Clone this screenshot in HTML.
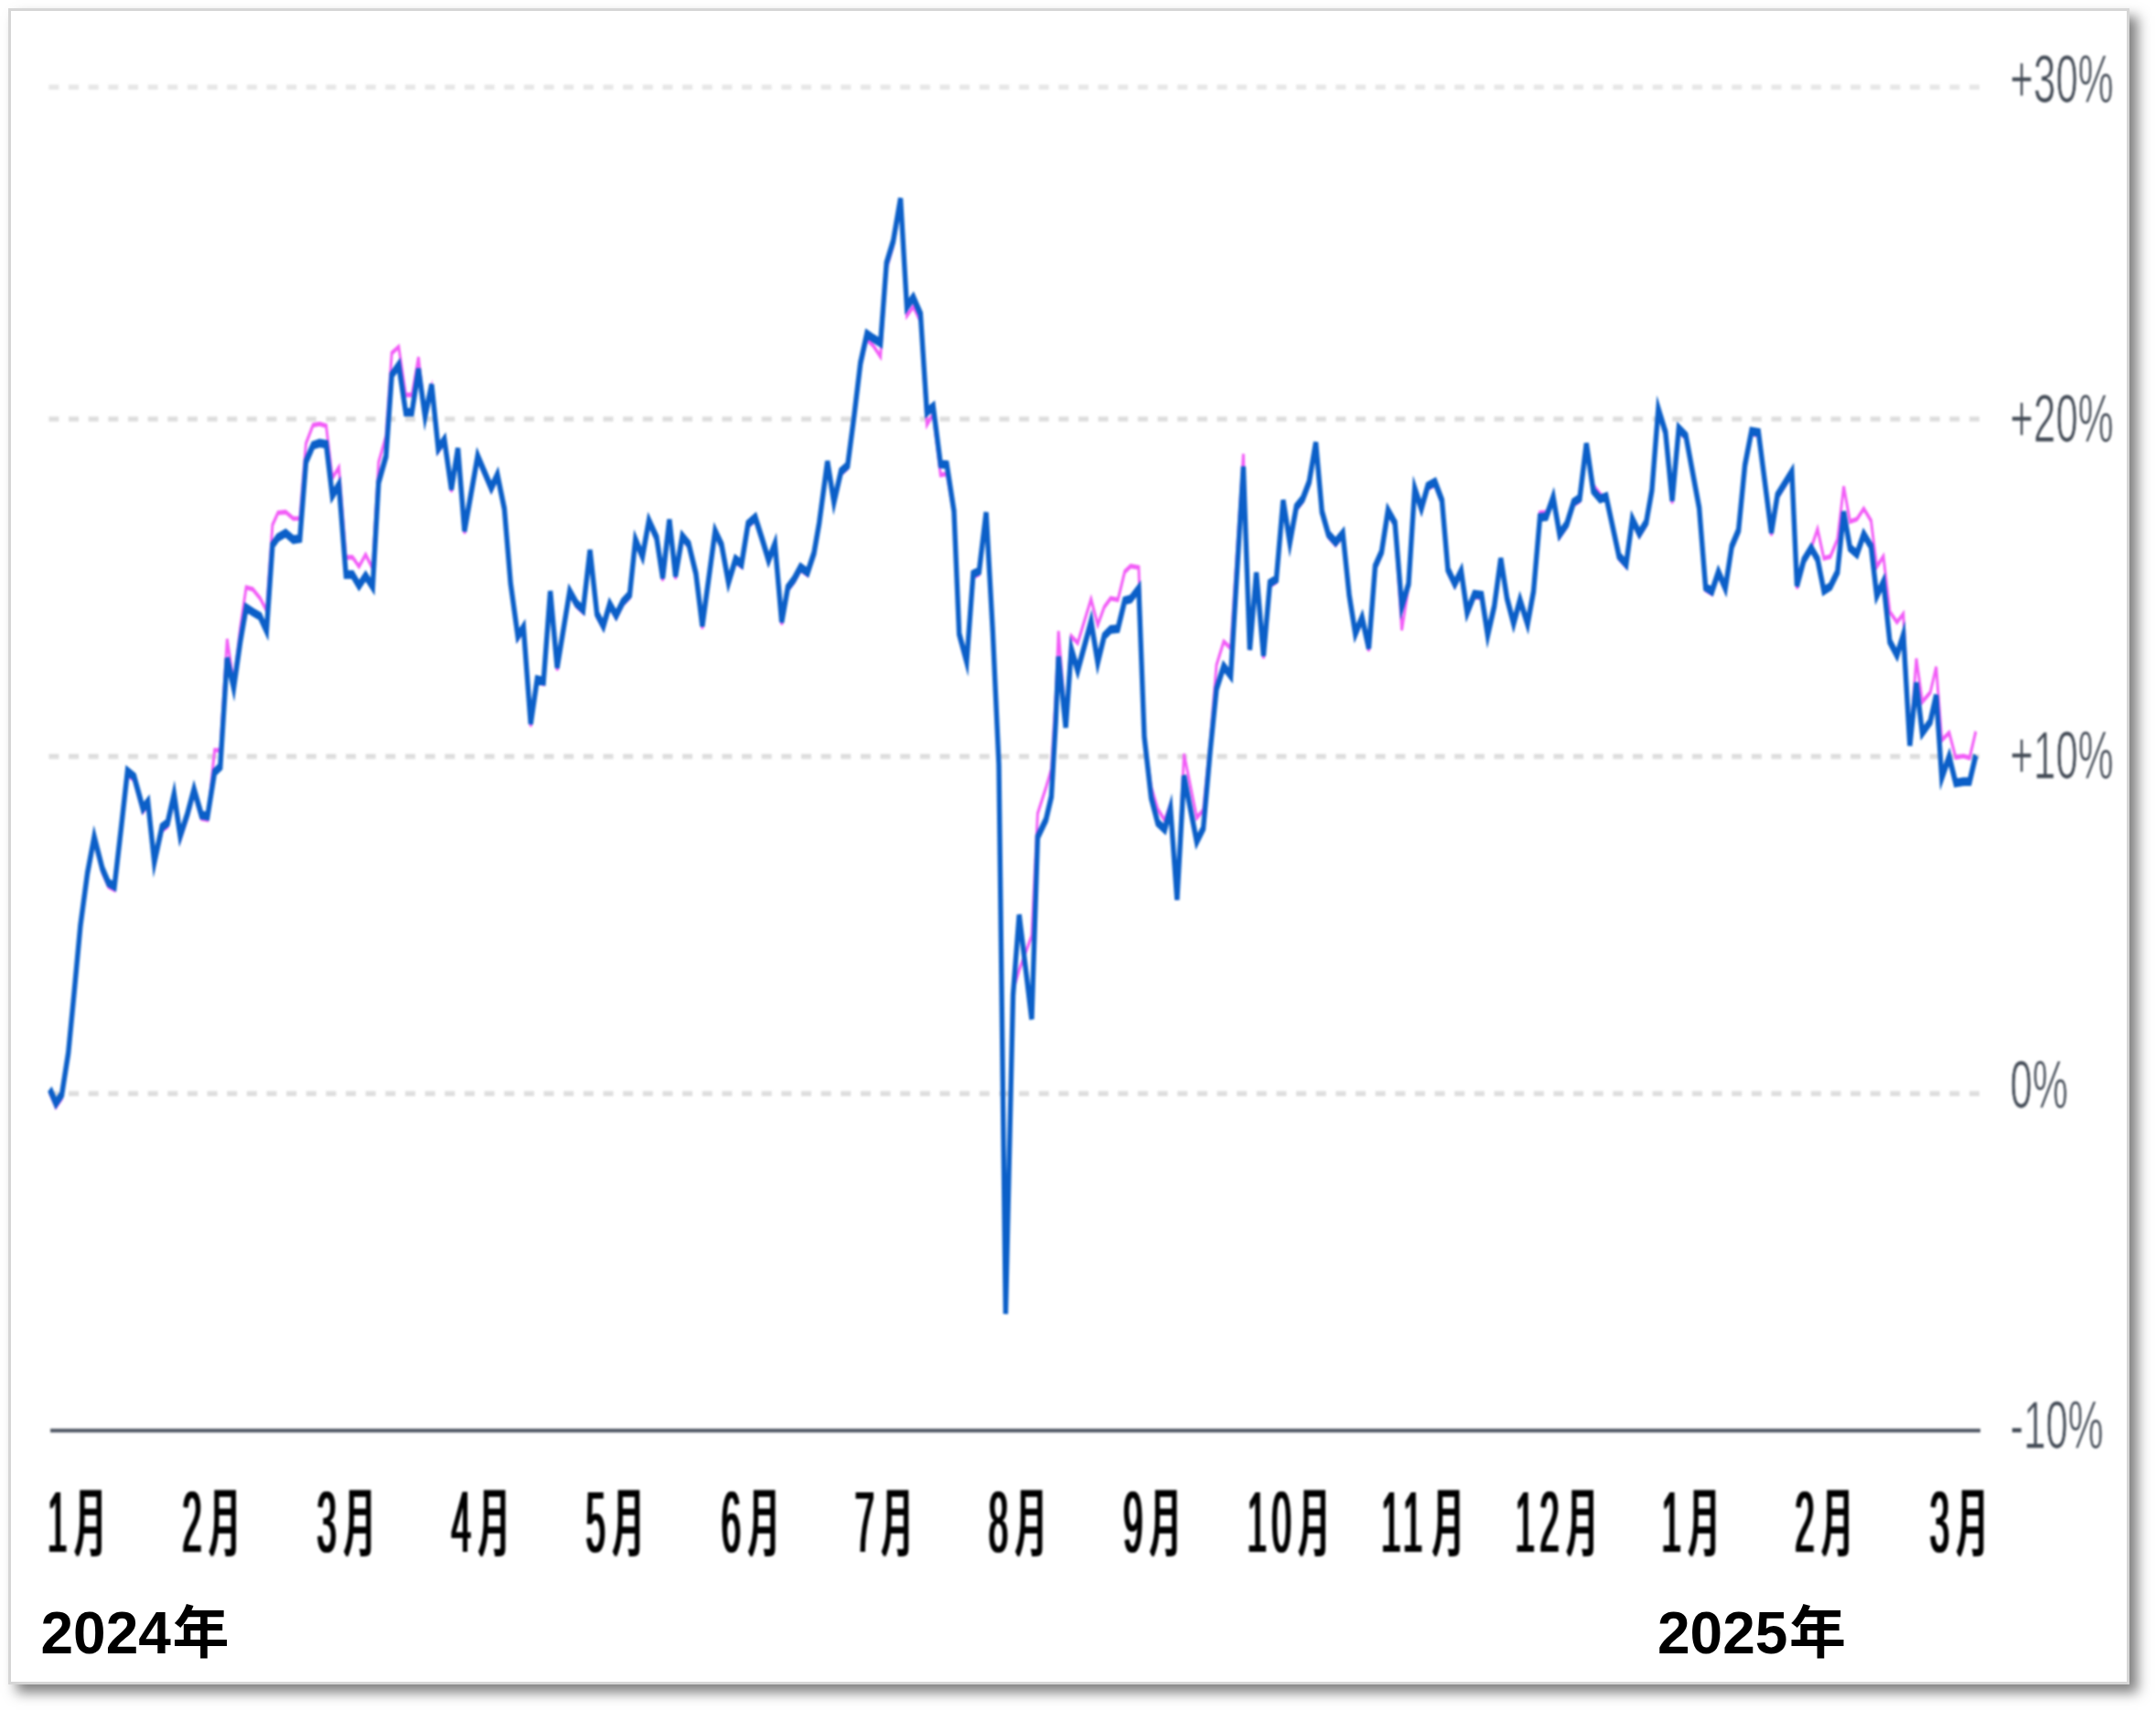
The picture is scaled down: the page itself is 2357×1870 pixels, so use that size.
<!DOCTYPE html>
<html lang="ja"><head><meta charset="utf-8"><title></title>
<style>
html,body{margin:0;padding:0;background:#fff;}
body{width:2357px;height:1870px;position:relative;overflow:hidden;font-family:"Liberation Sans","Noto Sans CJK JP",sans-serif;}
#frame{position:absolute;left:9px;top:9px;width:2313px;height:1826px;border:3px solid #d6d6d6;background:#fff;box-shadow:9px 9px 13px rgba(0,0,0,0.5);}
svg{position:absolute;left:0;top:0;}
#chart{filter:blur(1px);}
.yl{font-family:"Liberation Sans",sans-serif;font-size:73.4px;fill:#434b56;stroke:#fff;stroke-width:1px;}
.md{font-family:"Liberation Sans",sans-serif;font-weight:normal;font-size:94px;fill:#000;text-anchor:start;letter-spacing:12.9px;}
.mk{font-family:"Liberation Sans","Noto Sans CJK JP",sans-serif;font-weight:500;font-size:82px;fill:#000;text-anchor:start;}
.yr{font-family:"Liberation Sans","Noto Sans CJK JP",sans-serif;font-weight:bold;font-size:64px;fill:#000;}
.yk{font-size:62px;}
</style></head><body>
<div id="frame"></div>
<svg id="chart" width="2357" height="1870" viewBox="0 0 2357 1870">
<line x1="53.4" y1="95.3" x2="2164.5" y2="95.3" stroke="#e7e7e7" stroke-width="5.5" stroke-dasharray="11 10.645"/>
<line x1="53.4" y1="458" x2="2164.5" y2="458" stroke="#dedede" stroke-width="5.5" stroke-dasharray="11 10.645"/>
<line x1="53.4" y1="826.7" x2="2164.5" y2="826.7" stroke="#dedede" stroke-width="5.5" stroke-dasharray="11 10.645"/>
<line x1="53.4" y1="1195.2" x2="2164.5" y2="1195.2" stroke="#dedede" stroke-width="5.5" stroke-dasharray="11 10.645"/>
<line x1="55" y1="1563.4" x2="2165" y2="1563.4" stroke="#4c5461" stroke-width="4"/>
<g transform="scale(1,1.75)">
<path d="M54.4,682.40 L61.1,691.31 L67.6,685.83 L74.7,659.83 L81.2,621.49 L87.9,580.40 L95.6,547.54 L103.0,524.97 L111.9,544.80 L118.6,553.71 L125.1,555.77 L132.3,520.17 L139.4,483.89 L146.6,487.31 L156.2,507.14 L161.7,503.03 L168.7,540.69 L177.1,518.80 L183.3,516.06 L190.3,498.29 L197.0,524.29 L204.9,510.57 L212.1,495.26 L220.2,511.26 L226.9,511.94 L234.6,468.57 L240.8,468.57 L248.3,399.14 L255.5,426.57 L262.7,392.11 L269.1,366.91 L276.3,367.94 L284.2,373.49 L291.4,381.26 L297.9,327.89 L303.9,320.23 L312.3,319.77 L320.6,323.89 L327.8,323.77 L334.5,276.97 L342.2,265.54 L349.4,264.74 L356.6,266.00 L363.3,298.45 L370.5,291.94 L378.2,348.06 L385.4,348.06 L392.5,353.78 L399.7,346.46 L407.4,355.03 L413.9,288.74 L422.0,272.34 L428.3,220.51 L435.9,216.63 L443.6,246.63 L450.3,246.63 L457.5,223.14 L464.7,260.00 L471.9,242.11 L479.1,281.83 L485.8,276.34 L493.5,307.14 L500.6,281.83 L507.8,333.14 L522.2,286.63 L537.1,306.46 L543.8,298.23 L551.4,319.49 L558.2,366.06 L566.1,399.03 L572.3,393.54 L580.2,453.66 L587.2,426.11 L594.2,427.09 L601.6,371.03 L609.1,418.57 L622.8,371.03 L630.1,378.51 L637.5,382.51 L645.0,345.43 L652.6,385.03 L659.6,392.57 L666.6,379.03 L673.6,386.06 L681.0,377.54 L688.4,373.03 L694.7,338.86 L702.4,349.14 L709.4,326.91 L717.8,337.43 L724.5,362.57 L731.8,326.40 L738.5,361.43 L745.9,336.57 L752.9,341.43 L760.8,360.00 L767.8,392.57 L781.8,333.43 L788.8,341.94 L796.4,365.43 L804.1,350.97 L810.7,353.94 L817.8,328.91 L825.7,324.91 L833.5,338.91 L840.2,351.49 L847.2,341.43 L854.6,390.06 L861.3,368.57 L868.1,363.43 L875.2,355.94 L882.9,359.20 L889.9,347.09 L895.6,328.34 L904.6,290.00 L911.7,315.26 L919.4,296.11 L926.7,292.34 L933.8,261.38 L940.7,229.08 L947.7,212.00 L954.7,215.89 L962.6,222.74 L969.2,167.64 L976.5,153.45 L984.5,126.29 L991.4,197.20 L998.4,191.49 L1006.3,200.57 L1013.3,265.31 L1020.2,258.51 L1028.2,296.57 L1035.1,296.00 L1042.9,321.42 L1048.6,398.04 L1056.8,415.26 L1063.9,360.49 L1070.4,358.53 L1078.1,321.99 L1085.3,396.08 L1092.0,479.43 L1099.4,820.57 L1107.5,618.57 L1114.2,605.71 L1127.9,584.46 L1134.4,507.94 L1143.5,491.89 L1149.4,480.34 L1154.2,434.23 L1157.2,394.17 L1165.1,451.43 L1171.2,397.43 L1178.2,401.54 L1192.8,374.11 L1200.1,390.29 L1207.2,379.14 L1214.2,373.71 L1222.1,374.63 L1229.6,357.09 L1236.1,353.54 L1244.9,354.46 L1251.0,460.29 L1258.5,491.31 L1265.7,505.37 L1273.3,512.29 L1279.6,502.00 L1286.8,561.83 L1294.4,470.86 L1308.3,510.69 L1315.5,505.89 L1323.2,462.34 L1329.9,415.37 L1337.8,400.74 L1345.5,404.86 L1359.3,283.49 L1366.3,405.71 L1373.5,359.43 L1381.3,411.14 L1388.3,365.89 L1395.3,363.43 L1402.8,314.29 L1410.1,340.57 L1417.2,318.29 L1424.2,313.26 L1431.2,302.74 L1438.5,278.17 L1445.2,321.26 L1452.2,335.31 L1460.1,340.34 L1468.0,334.80 L1475.0,373.37 L1481.7,397.43 L1489.0,387.43 L1496.4,406.46 L1503.4,355.37 L1510.4,346.34 L1517.4,320.57 L1525.0,328.29 L1532.5,393.54 L1539.9,366.34 L1546.6,306.86 L1553.9,319.26 L1560.9,305.26 L1568.8,302.74 L1576.4,314.29 L1582.9,357.37 L1590.4,366.34 L1597.4,358.34 L1603.9,384.29 L1611.8,372.86 L1619.7,373.37 L1626.4,398.29 L1633.6,380.29 L1640.7,350.57 L1647.5,375.43 L1654.7,391.03 L1661.7,376.46 L1670.0,391.43 L1676.5,370.97 L1683.5,320.29 L1690.5,319.83 L1698.0,312.29 L1705.0,335.43 L1712.9,328.91 L1720.3,315.37 L1727.0,312.86 L1734.3,278.80 L1741.9,303.20 L1749.4,308.80 L1755.9,311.83 L1769.9,348.91 L1777.8,353.94 L1784.5,325.89 L1792.2,334.91 L1799.7,327.89 L1805.9,307.83 L1812.9,257.14 L1820.8,271.77 L1828.1,314.34 L1835.3,269.26 L1843.0,273.77 L1857.6,318.86 L1864.6,368.46 L1871.6,370.97 L1878.6,358.97 L1886.2,368.97 L1893.2,342.91 L1900.6,332.91 L1907.6,292.29 L1914.8,271.03 L1922.4,271.83 L1936.5,334.29 L1943.2,310.86 L1958.9,296.40 L1964.5,367.49 L1972.0,351.43 L1980.0,342.29 L1987.0,330.34 L1993.9,348.69 L2001.0,347.60 L2008.8,336.91 L2015.6,303.83 L2022.5,325.71 L2030.0,324.29 L2037.5,317.71 L2045.5,325.20 L2051.7,354.00 L2059.0,347.43 L2066.0,382.17 L2073.8,388.57 L2080.8,383.43 L2087.9,465.54 L2095.0,411.31 L2101.5,438.34 L2110.2,432.51 L2116.7,416.57 L2122.8,462.29 L2130.9,457.66 L2138.0,473.03 L2146.4,472.17 L2153.2,473.31 L2160.0,456.80" fill="none" stroke="#f25df7" stroke-width="2.9" stroke-linejoin="miter" stroke-miterlimit="3.75"/>
<path d="M54.4,680.11 L61.1,689.03 L67.6,683.54 L74.7,657.54 L81.2,619.20 L87.9,578.11 L95.6,545.26 L103.0,522.69 L111.9,542.51 L118.6,551.43 L125.1,553.49 L132.3,517.89 L139.4,481.60 L146.6,485.03 L156.2,504.86 L161.7,500.74 L168.7,538.40 L177.1,516.51 L183.3,513.77 L190.3,496.00 L197.0,522.00 L204.9,508.29 L212.1,492.97 L220.2,508.97 L226.9,509.66 L234.6,482.29 L240.8,478.86 L248.3,411.14 L255.5,429.43 L262.7,400.69 L269.1,379.49 L276.3,382.23 L284.2,384.91 L291.4,393.83 L297.9,340.46 L303.9,335.66 L312.3,332.91 L320.6,337.03 L327.8,336.34 L334.5,288.40 L342.2,278.11 L349.4,276.74 L356.6,277.43 L363.3,309.60 L370.5,302.80 L378.2,358.91 L385.4,358.91 L392.5,365.77 L399.7,359.60 L407.4,366.46 L413.9,301.31 L422.0,284.91 L428.3,234.23 L435.9,228.06 L443.6,257.49 L450.3,257.49 L457.5,230.57 L464.7,260.00 L471.9,240.40 L479.1,280.11 L485.8,274.63 L493.5,305.43 L500.6,280.11 L507.8,331.43 L522.2,284.91 L537.1,304.74 L543.8,296.51 L551.4,317.77 L558.2,364.34 L566.1,397.31 L572.3,391.83 L580.2,451.94 L587.2,424.40 L594.2,425.37 L601.6,369.31 L609.1,416.86 L622.8,369.31 L630.1,376.80 L637.5,380.80 L645.0,343.71 L652.6,383.31 L659.6,390.86 L666.6,377.31 L673.6,384.34 L681.0,375.83 L688.4,371.31 L694.7,337.14 L702.4,347.43 L709.4,325.20 L717.8,335.71 L724.5,360.86 L731.8,324.69 L738.5,359.71 L745.9,334.86 L752.9,339.71 L760.8,358.29 L767.8,390.86 L781.8,331.71 L788.8,340.23 L796.4,363.71 L804.1,349.26 L810.7,352.23 L817.8,327.20 L825.7,323.20 L833.5,337.20 L840.2,349.77 L847.2,339.71 L854.6,388.34 L861.3,366.86 L868.1,361.71 L875.2,354.23 L882.9,357.49 L889.9,345.37 L895.6,326.63 L904.6,288.29 L911.7,313.54 L919.4,294.40 L926.7,290.63 L933.8,259.60 L940.7,226.69 L947.7,208.51 L954.7,211.31 L962.6,214.17 L969.2,164.23 L976.5,150.57 L984.5,124.00 L991.4,191.49 L998.4,185.77 L1006.3,196.00 L1013.3,257.31 L1020.2,253.94 L1028.2,289.71 L1035.1,290.29 L1042.9,319.14 L1048.6,395.83 L1056.8,413.14 L1063.9,358.46 L1070.4,356.57 L1078.1,320.11 L1085.3,394.29 L1092.0,477.71 L1099.4,820.57 L1107.5,621.43 L1114.2,571.43 L1127.9,636.46 L1134.4,522.80 L1143.5,511.89 L1149.4,497.49 L1154.2,450.23 L1157.2,410.17 L1165.1,454.29 L1171.2,405.43 L1178.2,418.69 L1192.8,388.11 L1200.1,413.71 L1207.2,397.14 L1214.2,393.14 L1222.1,392.63 L1229.6,375.09 L1236.1,374.11 L1244.9,367.60 L1251.0,460.29 L1258.5,498.17 L1265.7,513.94 L1273.3,518.00 L1279.6,504.86 L1286.8,561.83 L1294.4,484.57 L1308.3,525.54 L1315.5,517.31 L1323.2,468.06 L1329.9,430.23 L1337.8,416.17 L1345.5,422.00 L1359.3,291.49 L1366.3,405.71 L1373.5,357.71 L1381.3,409.43 L1388.3,364.17 L1395.3,361.71 L1402.8,312.57 L1410.1,338.86 L1417.2,316.57 L1424.2,311.54 L1431.2,301.03 L1438.5,276.46 L1445.2,319.54 L1452.2,333.60 L1460.1,338.63 L1468.0,333.09 L1475.0,371.66 L1481.7,395.71 L1489.0,385.71 L1496.4,404.74 L1503.4,353.66 L1510.4,344.63 L1517.4,318.86 L1525.0,326.57 L1532.5,378.69 L1539.9,364.63 L1546.6,305.14 L1553.9,317.54 L1560.9,303.54 L1568.8,301.03 L1576.4,312.57 L1582.9,355.66 L1590.4,364.63 L1597.4,356.63 L1603.9,382.57 L1611.8,371.14 L1619.7,371.66 L1626.4,396.57 L1633.6,378.57 L1640.7,348.86 L1647.5,373.71 L1654.7,389.31 L1661.7,374.74 L1670.0,389.71 L1676.5,369.26 L1683.5,323.14 L1690.5,322.69 L1698.0,310.57 L1705.0,333.71 L1712.9,327.20 L1720.3,313.66 L1727.0,311.14 L1734.3,277.09 L1741.9,306.63 L1749.4,311.66 L1755.9,310.11 L1769.9,347.20 L1777.8,352.23 L1784.5,324.17 L1792.2,333.20 L1799.7,326.17 L1805.9,306.11 L1812.9,255.43 L1820.8,270.06 L1828.1,312.63 L1835.3,267.54 L1843.0,272.06 L1857.6,317.14 L1864.6,366.74 L1871.6,369.26 L1878.6,357.26 L1886.2,367.26 L1893.2,341.20 L1900.6,331.20 L1907.6,290.57 L1914.8,269.31 L1922.4,270.11 L1936.5,332.57 L1943.2,309.14 L1958.9,294.69 L1964.5,365.77 L1972.0,349.71 L1980.0,342.29 L1987.0,349.20 L1993.9,368.97 L2001.0,366.29 L2008.8,357.26 L2015.6,319.83 L2022.5,342.29 L2030.0,346.00 L2037.5,333.71 L2045.5,341.20 L2051.7,372.00 L2059.0,363.43 L2066.0,400.74 L2073.8,409.14 L2080.8,396.57 L2087.9,465.54 L2095.0,426.51 L2101.5,457.77 L2110.2,450.80 L2116.7,434.29 L2122.8,485.71 L2130.9,472.51 L2138.0,489.03 L2146.4,488.17 L2153.2,488.17 L2160.0,471.66" fill="none" stroke="#0b5fc8" stroke-width="5.4" stroke-linejoin="miter" stroke-miterlimit="3.75"/>
</g>
<text class="yl" transform="translate(2197.6,112.3) scale(0.595,1)">+30%</text>
<text class="yl" transform="translate(2197.6,483.1) scale(0.595,1)">+20%</text>
<text class="yl" transform="translate(2197.6,851.3) scale(0.595,1)">+10%</text>
<text class="yl" transform="translate(2197.6,1211.3) scale(0.595,1)">0%</text>
<text class="yl" transform="translate(2197.6,1582.8) scale(0.595,1)">-10%</text>
<defs><filter id="fat" x="-2%" y="-20%" width="104%" height="140%"><feMorphology operator="dilate" radius="1 0"/></filter></defs>
<g filter="url(#fat)">
<g class="mo"><text class="md" transform="translate(52.1,1696) scale(0.41,1)">1</text><text class="mk" transform="translate(81.4,1693.9) scale(0.418,1)">月</text></g>
<g class="mo"><text class="md" transform="translate(199.2,1696) scale(0.41,1)">2</text><text class="mk" transform="translate(228.5,1693.9) scale(0.418,1)">月</text></g>
<g class="mo"><text class="md" transform="translate(346.6,1696) scale(0.41,1)">3</text><text class="mk" transform="translate(376.0,1693.9) scale(0.418,1)">月</text></g>
<g class="mo"><text class="md" transform="translate(493.6,1696) scale(0.41,1)">4</text><text class="mk" transform="translate(523.0,1693.9) scale(0.418,1)">月</text></g>
<g class="mo"><text class="md" transform="translate(640.4,1696) scale(0.41,1)">5</text><text class="mk" transform="translate(669.7,1693.9) scale(0.418,1)">月</text></g>
<g class="mo"><text class="md" transform="translate(788.6,1696) scale(0.41,1)">6</text><text class="mk" transform="translate(818.0,1693.9) scale(0.418,1)">月</text></g>
<g class="mo"><text class="md" transform="translate(934.4,1696) scale(0.41,1)">7</text><text class="mk" transform="translate(963.7,1693.9) scale(0.418,1)">月</text></g>
<g class="mo"><text class="md" transform="translate(1080.7,1696) scale(0.41,1)">8</text><text class="mk" transform="translate(1109.9,1693.9) scale(0.418,1)">月</text></g>
<g class="mo"><text class="md" transform="translate(1227.9,1696) scale(0.41,1)">9</text><text class="mk" transform="translate(1257.1,1693.9) scale(0.418,1)">月</text></g>
<g class="mo"><text class="md" transform="translate(1363.5,1696) scale(0.41,1)">10</text><text class="mk" transform="translate(1419.5,1693.9) scale(0.418,1)">月</text></g>
<g class="mo"><text class="md" transform="translate(1510.0,1696) scale(0.41,1)">11</text><text class="mk" transform="translate(1566.0,1693.9) scale(0.418,1)">月</text></g>
<g class="mo"><text class="md" transform="translate(1656.6,1696) scale(0.41,1)">12</text><text class="mk" transform="translate(1712.6,1693.9) scale(0.418,1)">月</text></g>
<g class="mo"><text class="md" transform="translate(1816.6,1696) scale(0.41,1)">1</text><text class="mk" transform="translate(1845.8,1693.9) scale(0.418,1)">月</text></g>
<g class="mo"><text class="md" transform="translate(1962.2,1696) scale(0.41,1)">2</text><text class="mk" transform="translate(1991.4,1693.9) scale(0.418,1)">月</text></g>
<g class="mo"><text class="md" transform="translate(2109.7,1696) scale(0.41,1)">3</text><text class="mk" transform="translate(2138.9,1693.9) scale(0.418,1)">月</text></g>
</g>
</svg>
<svg id="years" width="2357" height="1870" viewBox="0 0 2357 1870">
<text class="yr" x="44.5" y="1806.6">2024<tspan class="yk" dx="1.5">年</tspan></text>
<text class="yr" x="1812" y="1806.6">2025<tspan class="yk" dx="1.5">年</tspan></text>
</svg>
</body></html>
